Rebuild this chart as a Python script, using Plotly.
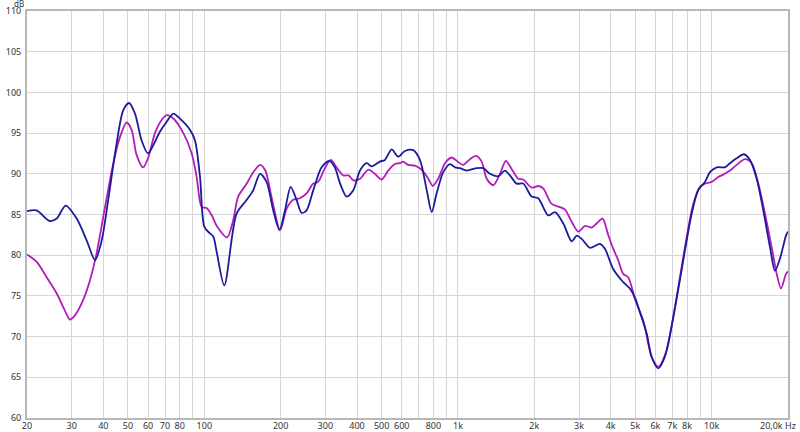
import plotly.graph_objects as go

# Frequencies (Hz) and levels (dB)
freq_blue = [20, 21.8, 24.6, 26.2, 28.4, 31.4, 34.4, 37.1, 39.4, 41.8, 45.1, 47.9, 50.5, 53.3,
             56.6, 60, 62.9, 66.9, 71.1, 75.5, 80, 87.8, 91.9, 96.2, 100, 105, 108.5, 111.9,
             119.9, 134, 147, 156, 165.8, 176, 187, 198, 208, 219, 231, 242, 253, 269, 290,
             311, 327, 343, 364, 387, 411, 437, 457, 492, 515, 548, 581, 618, 666, 708, 753,
             788, 824, 875, 930, 973, 1018, 1082, 1185, 1258, 1337, 1442, 1532, 1603, 1703,
             1808, 1952, 2072, 2270, 2413, 2602, 2808, 2938, 3074, 3315, 3627, 3795, 4092,
             4450, 4760, 5000, 5213, 5544, 5802, 6160, 6538, 6949, 7378, 7849, 8342, 8854,
             9410, 9847, 10464, 11284, 11810, 12550, 13410, 14160, 15050, 15980, 16980,
             17770, 18600, 19640, 20000]
db_blue = [85.4, 85.5, 84.2, 84.5, 86.1, 84.5, 81.8, 79.4, 81.8, 86.8, 93.7, 97.8, 98.7, 97.4,
           94.1, 92.5, 93.5, 95.2, 96.4, 97.4, 96.8, 95.4, 94.1, 89.6, 83.5, 82.7, 82.3, 80.4,
           76.3, 85.1, 86.8, 88.0, 90.0, 89.0, 85.5, 83.1, 85.5, 88.4, 86.8, 85.2, 85.5, 88.0,
           90.8, 91.6, 90.8, 88.8, 87.2, 88.0, 90.4, 91.3, 90.9, 91.5, 91.7, 93.0, 92.1, 92.8,
           92.9, 91.7, 88.0, 85.3, 87.6, 90.2, 91.2, 90.8, 90.7, 90.4, 90.7, 90.7, 90.0, 89.7,
           90.4, 89.8, 88.8, 88.8, 87.2, 87.0, 84.9, 85.3, 83.9, 81.7, 82.4, 82.0, 80.9, 81.4,
           80.8, 78.3, 76.8, 75.9, 74.7, 73.0, 70.4, 67.5, 66.1, 67.5, 71.2, 75.7, 80.6, 85.1,
           88.0, 89.0, 90.2, 90.8, 90.8, 91.3, 91.9, 92.4, 91.7, 89.4, 85.5, 81.0, 78.1, 79.6,
           82.4, 82.9]

freq_magenta = [20, 21.8, 23.9, 26.2, 28.2, 29.5, 30.9, 33.3, 35.4, 37.6, 40.6, 43.8, 46.5,
                49.4, 51.7, 54.1, 57.4, 60, 63.9, 67.9, 71.1, 75.5, 82.7, 89.2, 93.3, 97.7,
                102, 107, 112, 123, 130, 136, 147, 156, 166, 174, 184.5, 199, 211, 224, 238,
                253, 269, 281, 300, 315, 332, 353, 370, 387, 411, 443, 470, 500, 531, 564, 590,
                608, 636, 676, 719, 764, 795, 836, 889, 944, 988, 1049, 1115, 1178, 1240, 1298,
                1378, 1464, 1545, 1627, 1728, 1808, 1952, 2072, 2168, 2342, 2525, 2642, 2808,
                2981, 3168, 3366, 3519, 3716, 3910, 4092, 4281, 4480, 4688, 5000, 5372, 5802,
                6160, 6641, 7051, 7500, 7971, 8463, 9000, 9410, 10000, 10620, 11110, 11810,
                12550, 13540, 14390, 15280, 16230, 17250, 18050, 18770, 19640, 20000]
db_magenta = [80.1, 79.2, 77.3, 75.3, 73.2, 72.1, 72.6, 74.5, 76.9, 80.2, 85.9, 91.3, 94.5,
              96.3, 95.4, 92.3, 90.8, 91.9, 95.0, 96.6, 97.2, 96.8, 95.0, 92.5, 89.6, 85.9,
              85.8, 84.9, 83.6, 82.2, 84.3, 87.2, 88.8, 90.2, 91.1, 90.4, 87.0, 83.1, 85.7,
              86.8, 87.0, 87.6, 88.8, 89.0, 90.8, 91.7, 90.8, 89.8, 89.8, 89.2, 89.4, 90.5,
              90.0, 89.3, 90.4, 91.2, 91.3, 91.5, 91.1, 91.0, 90.5, 89.4, 88.5, 89.4, 91.3,
              92.0, 91.6, 91.1, 91.8, 92.2, 91.5, 89.4, 88.6, 90.0, 91.6, 90.6, 89.4, 89.3,
              88.3, 88.5, 88.2, 86.3, 85.9, 85.6, 84.1, 82.9, 83.6, 83.4, 83.9, 84.5, 82.5,
              80.8, 79.4, 77.7, 77.3, 74.5, 72.0, 67.5, 66.3, 68.3, 72.4, 77.3, 82.2, 86.3,
              88.4, 88.8, 89.0, 89.6, 89.9, 90.4, 91.1, 91.8, 91.3, 88.8, 85.1, 81.0, 77.7,
              75.9, 77.7, 78.0]

grid_freqs = [20, 30, 40, 50, 60, 70, 80, 90, 100, 200, 300, 400, 500, 600, 700, 800, 900,
              1000, 2000, 3000, 4000, 5000, 6000, 7000, 8000, 9000, 10000]
grid_labels = ["20", "30", "40", "50", "60", "70", "80", "", "100", "200", "300", "400", "500",
               "600", "", "800", "", "1k", "2k", "3k", "4k", "5k", "6k", "7k", "8k", "", "10k"]
y_ticks = [60, 65, 70, 75, 80, 85, 90, 95, 100, 105, 110]

fig = go.Figure()
fig.add_trace(go.Scatter(x=freq_magenta, y=db_magenta, mode="lines",
                         line=dict(color="#b21db8", width=1.8, shape="spline", smoothing=0.8),
                         hoverinfo="skip"))
fig.add_trace(go.Scatter(x=freq_blue, y=db_blue, mode="lines",
                         line=dict(color="#1b1b9b", width=1.8, shape="spline", smoothing=0.8),
                         hoverinfo="skip"))

fnt = dict(family="Noto Sans, Open Sans, sans-serif", size=9, color="#333333")
fig.update_layout(
    width=800, height=432,
    margin=dict(l=27, r=12, t=11, b=14),
    paper_bgcolor="white", plot_bgcolor="white",
    showlegend=False,
    font=fnt,
    xaxis=dict(type="log", range=[1.30103, 4.30103], tickvals=grid_freqs, ticktext=grid_labels,
               showgrid=True, gridcolor="#d6d6d6", gridwidth=1, zeroline=False,
               showline=True, linecolor="#b8b8b8", linewidth=2, mirror=True,
               ticks="", tickfont=fnt, ticklabelstandoff=-2, automargin=False),
    yaxis=dict(range=[60, 110], tickvals=y_ticks, showgrid=True, gridcolor="#d6d6d6",
               gridwidth=1, zeroline=False, showline=True, linecolor="#b8b8b8", linewidth=2,
               mirror=True, ticks="", tickfont=fnt, ticklabelstandoff=2, automargin=False),
    annotations=[
        dict(text="dB", xref="paper", yref="paper", x=0, y=1, xanchor="right", yanchor="bottom",
             xshift=-1, yshift=0, showarrow=False, font=dict(fnt, size=8)),
        dict(text="20,0k Hz", xref="paper", yref="paper", x=1, y=0, xanchor="right",
             yanchor="top", xshift=10, yshift=1, showarrow=False, font=fnt),
    ],
)

fig.write_html("out.html", config={"displayModeBar": False, "staticPlot": True},
               post_script="document.body.style.margin='0';document.body.style.overflow='hidden';")
